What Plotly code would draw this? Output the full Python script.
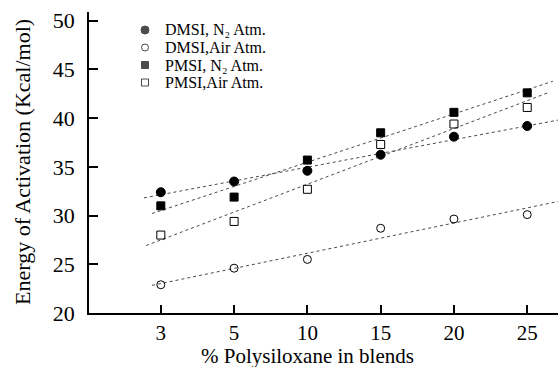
import numpy as np
import plotly.graph_objects as go

# Polysiloxane content in the blends (%), plotted as evenly spaced categories
blend_pct = [3, 5, 10, 15, 20, 25]
tick_labels = ["3", "5", "10", "15", "20", "25"]

# Energy of activation (Kcal/mol)
dmsi_n2 = [32.4, 33.5, 34.6, 36.25, 38.1, 39.2]
dmsi_air = [22.9, 24.6, 25.5, 28.7, 29.65, 30.1]
pmsi_n2 = [31.0, 31.9, 35.7, 38.5, 40.6, 42.6]
pmsi_air = [28.0, 29.4, 32.7, 37.3, 39.4, 41.1]

series_names = ["DMSI, N₂ Atm.", "DMSI,Air Atm.",
                "PMSI, N₂ Atm.", "PMSI,Air Atm."]
series_values = [dmsi_n2, dmsi_air, pmsi_n2, pmsi_air]
symbols = ["circle", "circle-open", "square", "square-open"]
marker_sizes = [9, 8, 8, 8]
# x-extent (category index) of each dotted trend line
trend_extent = [(-0.23, 5.45), (-0.12, 5.45), (-0.12, 5.35), (-0.2, 5.3)]

# Figure geometry in pixels
W, H = 558, 367
ML, MR, MT, MB = 89, 0, 12, 54
PW, PH = W - ML - MR, H - MT - MB


def px_x(px):
    """Horizontal pixel -> plot-area fraction."""
    return (px - ML) / PW


def px_y(py):
    """Vertical pixel (from top) -> plot-area fraction."""
    return (H - MB - py) / PH


idx = np.arange(len(blend_pct))
font_family = "Liberation Serif, Times New Roman, serif"

fig = go.Figure()

# Least-squares trend lines (dotted)
for vals, (x0, x1) in zip(series_values, trend_extent):
    slope, intercept = np.polyfit(idx, vals, 1)
    xs = np.array([x0, x1])
    fig.add_trace(go.Scatter(
        x=xs, y=slope * xs + intercept, mode="lines",
        line=dict(color="#4a4a4a", width=1, dash="dot"),
        showlegend=False, hoverinfo="skip",
    ))

# Data markers
for name, vals, sym, ms in zip(series_names, series_values, symbols, marker_sizes):
    fig.add_trace(go.Scatter(
        x=idx, y=vals, mode="markers", name=name, showlegend=False,
        marker=dict(symbol=sym, size=ms, color="black",
                    line=dict(color="black", width=1)),
    ))

# Compact key in the upper-left corner: symbols on an overlay axis pair,
# labels as annotations beside them
key_rows_px = [30, 47.5, 65, 82.5]
fig.add_trace(go.Scatter(
    x=[px_x(145)] * 4, y=[px_y(r) for r in key_rows_px],
    xaxis="x2", yaxis="y2", mode="markers", showlegend=False,
    hoverinfo="skip",
    marker=dict(symbol=symbols, size=[8, 7, 7, 7], color="black",
                line=dict(color="black", width=1)),
))

annotations = []
for name, r in zip(series_names, key_rows_px):
    annotations.append(dict(
        text=name, x=px_x(163), y=px_y(r), xref="paper", yref="paper",
        xanchor="left", yanchor="middle", showarrow=False,
        font=dict(size=16),
    ))
annotations.append(dict(
    text="% Polysiloxane in blends", x=px_x(307), y=px_y(356),
    xref="paper", yref="paper", xanchor="center", yanchor="middle",
    showarrow=False, font=dict(size=21),
))
annotations.append(dict(
    text="Energy of Activation (Kcal/mol)", x=px_x(22), y=px_y(162),
    xref="paper", yref="paper", xanchor="center", yanchor="middle",
    textangle=-90, showarrow=False, font=dict(size=22),
))

fig.update_layout(
    width=W, height=H,
    margin=dict(l=ML, r=MR, t=MT, b=MB),
    paper_bgcolor="white", plot_bgcolor="white",
    font=dict(family=font_family, size=18, color="black"),
    showlegend=False,
    xaxis=dict(
        range=[-0.98, 5.42],
        tickmode="array", tickvals=list(idx), ticktext=tick_labels,
        ticks="inside", ticklen=8, tickwidth=1.5, tickcolor="black",
        showline=True, linecolor="black", linewidth=1.5,
        showgrid=False, zeroline=False, ticklabelstandoff=0,
        tickfont=dict(size=21),
    ),
    yaxis=dict(
        range=[20, 50.9],
        tickvals=[20, 25, 30, 35, 40, 45, 50],
        ticks="inside", ticklen=9, tickwidth=1.5, tickcolor="black",
        showline=True, linecolor="black", linewidth=1.5,
        showgrid=False, zeroline=False, ticklabelstandoff=8,
        tickfont=dict(size=22),
    ),
    xaxis2=dict(overlaying="x", range=[0, 1], visible=False),
    yaxis2=dict(overlaying="y", range=[0, 1], visible=False),
    annotations=annotations,
)

fig.write_html("out.html")
